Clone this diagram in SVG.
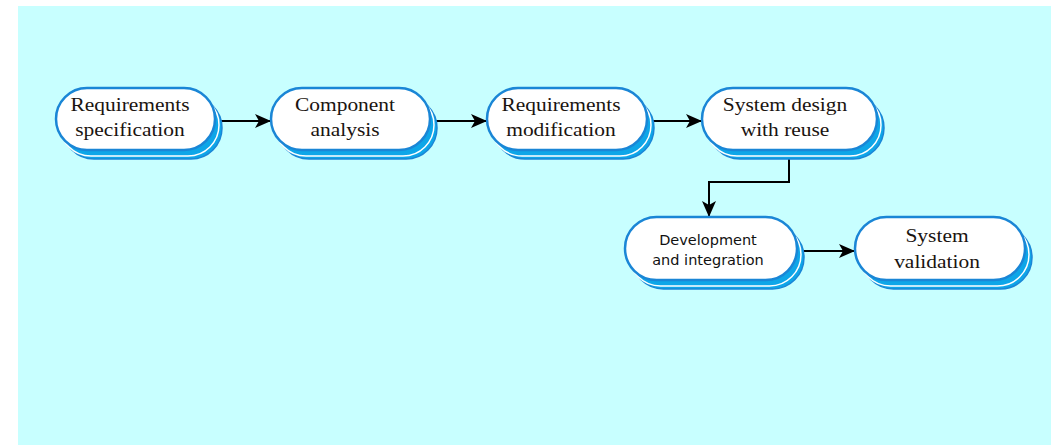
<svg xmlns="http://www.w3.org/2000/svg" width="1052" height="445" viewBox="0 0 1052 445">
<defs>
<style>
.bg{fill:#c8ffff}
.main{fill:#ffffff;stroke:#1a86d6;stroke-width:2.5}
.sh1{fill:#0ea6e8;stroke:#ffffff;stroke-width:1.5}
.sh2{fill:#0ea6e8;stroke:#1a86d6;stroke-width:1.5}
.serif{font-family:"Liberation Serif","Times New Roman",serif;font-size:19.5px;fill:#1a1410;text-anchor:middle}
.sans{font-family:"DejaVu Sans",Verdana,sans-serif;font-size:14.5px;fill:#111;text-anchor:middle}
.conn{fill:none;stroke:#000;stroke-width:2}
</style>
<marker id="ah" markerWidth="16" markerHeight="14" refX="15" refY="7" orient="auto" markerUnits="userSpaceOnUse">
<path d="M0,0 L16,7 L0,14 L4,7 z" fill="#000"/>
</marker>
</defs>
<rect x="0" y="0" width="1052" height="445" fill="#ffffff"/>
<rect class="bg" x="18" y="6" width="1033" height="439"/>

<g id="connectors">
<line class="conn" x1="215" y1="121" x2="270" y2="121" marker-end="url(#ah)"/>
<line class="conn" x1="430" y1="121" x2="486" y2="121" marker-end="url(#ah)"/>
<line class="conn" x1="647" y1="121" x2="701" y2="121" marker-end="url(#ah)"/>
<polyline class="conn" points="789,151 789,182 709,182 709,216" marker-end="url(#ah)"/>
<line class="conn" x1="798" y1="251" x2="854" y2="251" marker-end="url(#ah)"/>
</g>

<g id="n1">
<rect class="sh2" x="63" y="97" width="159" height="62" rx="31"/>
<rect class="sh1" x="60" y="94" width="159" height="62" rx="31"/>
<rect class="main" x="56" y="88" width="159" height="62" rx="31"/>
<g transform="translate(130,0) scale(1.1,1)"><text class="serif" x="0" y="111">Requirements</text><text class="serif" x="0" y="136">specification</text></g>
</g>

<g id="n2">
<rect class="sh2" x="278" y="97" width="159" height="62" rx="31"/>
<rect class="sh1" x="275" y="94" width="159" height="62" rx="31"/>
<rect class="main" x="271" y="88" width="159" height="62" rx="31"/>
<g transform="translate(345,0) scale(1.1,1)"><text class="serif" x="0" y="111">Component</text><text class="serif" x="0" y="136">analysis</text></g>
</g>

<g id="n3">
<rect class="sh2" x="494" y="97" width="160" height="62" rx="31"/>
<rect class="sh1" x="491" y="94" width="160" height="62" rx="31"/>
<rect class="main" x="487" y="88" width="160" height="62" rx="31"/>
<g transform="translate(561,0) scale(1.1,1)"><text class="serif" x="0" y="111">Requirements</text><text class="serif" x="0" y="136">modification</text></g>
</g>

<g id="n4">
<rect class="sh2" x="709" y="97" width="175" height="62" rx="31"/>
<rect class="sh1" x="706" y="94" width="175" height="62" rx="31"/>
<rect class="main" x="702" y="88" width="175" height="62" rx="31"/>
<g transform="translate(785,0) scale(1.1,1)"><text class="serif" x="0" y="111">System design</text><text class="serif" x="0" y="136">with reuse</text></g>
</g>

<g id="n5">
<rect class="sh2" x="632" y="226" width="172" height="63" rx="31.5"/>
<rect class="sh1" x="629" y="223" width="172" height="63" rx="31.5"/>
<rect class="main" x="625" y="217" width="172" height="63" rx="31.5"/>
<text class="sans" x="708" y="245">Development</text>
<text class="sans" x="708" y="265">and integration</text>
</g>

<g id="n6">
<rect class="sh2" x="862" y="226" width="170" height="63" rx="31.5"/>
<rect class="sh1" x="859" y="223" width="170" height="63" rx="31.5"/>
<rect class="main" x="855" y="217" width="170" height="63" rx="31.5"/>
<g transform="translate(937,0) scale(1.1,1)"><text class="serif" x="0" y="242">System</text><text class="serif" x="0" y="268">validation</text></g>
</g>
</svg>
